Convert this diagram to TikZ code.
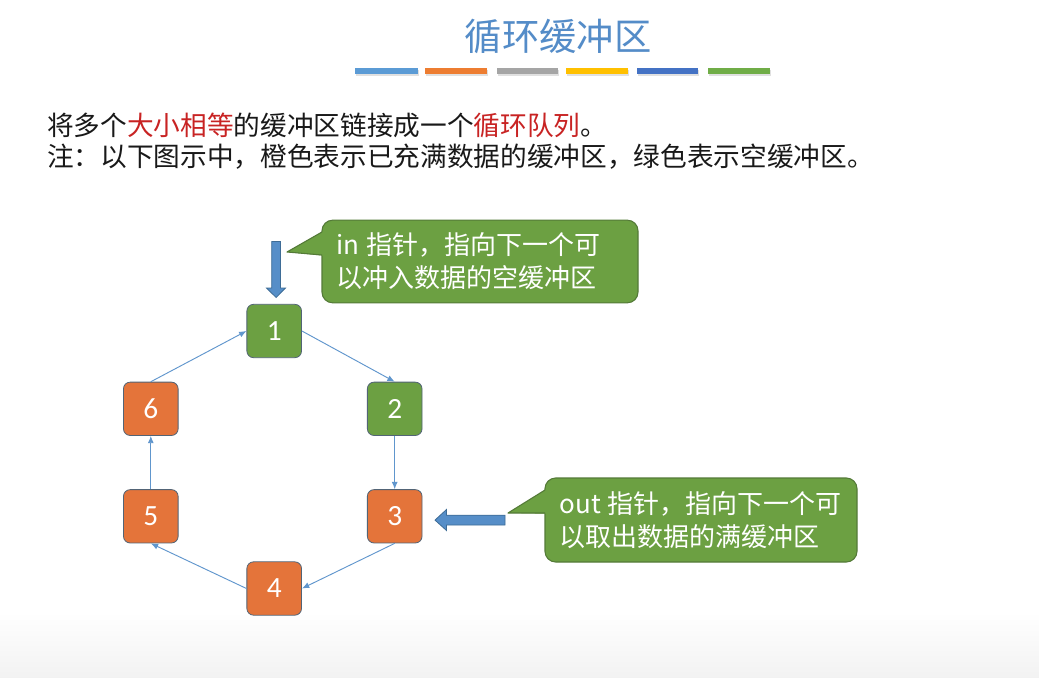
\documentclass[tikz,border=0pt]{standalone}
\usepackage{fontspec}
\setmainfont{Carlito}
\newfontfamily\cjk{Noto Sans CJK SC}
\usetikzlibrary{arrows.meta,calc}
\definecolor{greenfill}{RGB}{108,160,66}
\definecolor{orangefill}{RGB}{228,116,58}
\definecolor{nodeborder}{RGB}{82,100,118}
\definecolor{calloutborder}{RGB}{84,122,56}
\definecolor{linkblue}{RGB}{96,150,205}
\definecolor{bigfill}{RGB}{86,142,200}
\definecolor{bigborder}{RGB}{62,108,150}
\definecolor{titleblue}{RGB}{84,140,200}
\definecolor{redtext}{RGB}{200,35,35}
\definecolor{bodytext}{RGB}{25,25,25}
\definecolor{barA}{RGB}{91,155,213}
\definecolor{barB}{RGB}{237,125,49}
\definecolor{barC}{RGB}{165,165,165}
\definecolor{barD}{RGB}{255,192,0}
\definecolor{barE}{RGB}{68,114,196}
\definecolor{barF}{RGB}{112,173,71}
\begin{document}
\begin{tikzpicture}[x=0.75pt,y=-0.75pt,
  buf/.style={draw=nodeborder, line width=0.6pt, rounded corners=5pt,
    minimum width=41pt, minimum height=40pt, inner sep=0pt, text=white,
    font=\fontsize{22}{22}\selectfont},
  fullbuf/.style={buf, fill=orangefill},
  emptybuf/.style={buf, fill=greenfill},
  link/.style={draw=linkblue, line width=0.7pt, -{Latex[length=5.5pt,width=4.5pt]}},
  callout/.style={draw=calloutborder, fill=greenfill, line width=0.8pt,
    rounded corners=8pt, text=white, align=left, inner xsep=11pt, inner ysep=0pt,
    font=\cjk\fontsize{19.5}{25}\selectfont},
  pointeredge/.style={draw=calloutborder, line width=0.8pt, line join=round},
  bigarrow/.style={fill=bigfill, draw=bigborder, line width=0.6pt, line join=miter},
  body/.style={anchor=west, inner sep=0pt, text=bodytext, font=\cjk\fontsize{20}{24}\selectfont}
]
\useasboundingbox (0,0) rectangle (1039,678);
\fill[white] (0,0) rectangle (1039,678);
\shade[top color=white, bottom color=black!5] (0,612) rectangle (1039,678);

% title
\node[text=titleblue, font=\cjk\fontsize{28}{28}\selectfont, inner sep=0pt] (title) at (558,36) {循环缓冲区};

% coloured bars with soft shadow
\foreach \xa/\xb/\c in {355/418/barA, 425/487/barB, 497/558/barC, 566/628/barD, 637/698/barE, 708/770/barF}{
  \fill[black!12] (\xa+1,70) rectangle (\xb+1,76);
  \fill[\c] (\xa,68) rectangle (\xb,73.5);
}

% body text
\node[body] (line1) at (47,125) {将多个\textcolor{redtext}{大小相等}的缓冲区链接成一个\textcolor{redtext}{循环队列}。};
\node[body] (line2) at (47,157) {注：以下图示中，橙色表示已充满数据的缓冲区，绿色表示空缓冲区。};

% buffers
\node[emptybuf] (b1) at (274.2,331) {1};
\node[emptybuf] (b2) at (394.7,408.8) {2};
\node[fullbuf]  (b3) at (394.7,516.3) {3};
\node[fullbuf]  (b4) at (274.2,588.5) {4};
\node[fullbuf]  (b5) at (150.8,516.3) {5};
\node[fullbuf]  (b6) at (150.8,408.8) {6};

% ring links
\draw[link] (b1.east) -- (b2.north);
\draw[link] (b2.south) -- (b3.north);
\draw[link] (b3.south) -- (b4.east);
\draw[link] (b4.west) -- (b5.south);
\draw[link] (b5.north) -- (b6.south);
\draw[link] (b6.north) -- (b1.west);

% in pointer arrow (down)
\draw[bigarrow] (271.7,241.5) -- (280.5,241.5) -- (280.5,288) -- (285.5,288) -- (276.1,297.5) -- (266.5,288) -- (271.7,288) -- cycle;
% out pointer arrow (left)
\draw[bigarrow] (505,515.2) -- (505,525) -- (446.5,525) -- (446.5,530.5) -- (435,520.1) -- (446.5,509.5) -- (446.5,515.2) -- cycle;

% in callout
\node[callout, text width=215pt, minimum height=62pt] (incall) at (480,261.5)
  {\mbox{in\hspace{0.25em}指针，指向下一个可}\\\mbox{以冲入数据的空缓冲区}};
\coordinate (intip) at (287,252);
\fill[greenfill] (323.2,231.3) -- (intip) -- (323.2,255.7) -- cycle;
\draw[pointeredge] (322,232) -- (intip) -- (322,255);

% out callout
\node[callout, text width=212pt, minimum height=63pt] (outcall) at (701,520)
  {\mbox{out\hspace{0.25em}指针，指向下一个可}\\\mbox{以取出数据的满缓冲区}};
\coordinate (outtip) at (508,513);
\fill[greenfill] (546.2,489.3) -- (outtip) -- (546.2,513.7) -- cycle;
\draw[pointeredge] (545,490) -- (outtip) -- (545,513);
\end{tikzpicture}
\end{document}
